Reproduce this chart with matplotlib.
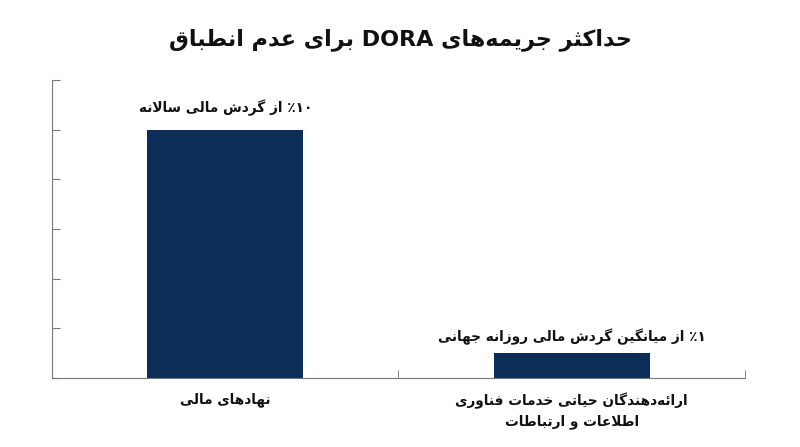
import re
import matplotlib
matplotlib.use('Agg')
import matplotlib.pyplot as plt

# data
categories = ['نهادهای مالی', 'ارائه‌دهندگان حیاتی خدمات فناوری\nاطلاعات و ارتباطات']
fines = [10, 1]
bar_labels = ['۱۰٪ از گردش مالی سالانه', '۱٪ از میانگین گردش مالی روزانه جهانی']
title = 'حداکثر جریمه‌های DORA برای عدم انطباق'

# contextual forms: isolated, final, initial, medial (right-joining letters have two)
FORMS = {
    'ا': '\uFE8D\uFE8E', 'آ': '\uFE81\uFE82', 'د': '\uFEA9\uFEAA', 'ذ': '\uFEAB\uFEAC',
    'ر': '\uFEAD\uFEAE', 'ز': '\uFEAF\uFEB0', 'ژ': '\uFB8A\uFB8B', 'و': '\uFEED\uFEEE',
    'ب': '\uFE8F\uFE90\uFE91\uFE92', 'پ': '\uFB56\uFB57\uFB58\uFB59',
    'ت': '\uFE95\uFE96\uFE97\uFE98', 'ث': '\uFE99\uFE9A\uFE9B\uFE9C',
    'ج': '\uFE9D\uFE9E\uFE9F\uFEA0', 'چ': '\uFB7A\uFB7B\uFB7C\uFB7D',
    'ح': '\uFEA1\uFEA2\uFEA3\uFEA4', 'خ': '\uFEA5\uFEA6\uFEA7\uFEA8',
    'س': '\uFEB1\uFEB2\uFEB3\uFEB4', 'ش': '\uFEB5\uFEB6\uFEB7\uFEB8',
    'ص': '\uFEB9\uFEBA\uFEBB\uFEBC', 'ض': '\uFEBD\uFEBE\uFEBF\uFEC0',
    'ط': '\uFEC1\uFEC2\uFEC3\uFEC4', 'ظ': '\uFEC5\uFEC6\uFEC7\uFEC8',
    'ع': '\uFEC9\uFECA\uFECB\uFECC', 'غ': '\uFECD\uFECE\uFECF\uFED0',
    'ف': '\uFED1\uFED2\uFED3\uFED4', 'ق': '\uFED5\uFED6\uFED7\uFED8',
    'ک': '\uFB8E\uFB8F\uFB90\uFB91', 'گ': '\uFB92\uFB93\uFB94\uFB95',
    'ل': '\uFEDD\uFEDE\uFEDF\uFEE0', 'م': '\uFEE1\uFEE2\uFEE3\uFEE4',
    'ن': '\uFEE5\uFEE6\uFEE7\uFEE8', 'ه': '\uFEE9\uFEEA\uFEEB\uFEEC',
    'ی': '\uFBFC\uFBFD\uFBFE\uFBFF', 'ئ': '\uFE89\uFE8A\uFE8B\uFE8C',
}
LAM_ALEF = {'ا': '\uFEFB\uFEFC', 'آ': '\uFEF5\uFEF6'}


def shape(text):
    """ join persian letters with presentation forms, then reorder for display """
    out = []
    i = 0
    while i < len(text):
        c = text[i]
        prev = text[i-1] if i > 0 else ''
        nxt = text[i+1] if i + 1 < len(text) else ''
        join_prev = prev in FORMS and len(FORMS[prev]) == 4
        if c not in FORMS:
            if c != '\u200c':
                out.append(c)
            i += 1
            continue
        if c == 'ل' and nxt in LAM_ALEF:
            out.append(LAM_ALEF[nxt][1 if join_prev else 0])
            i += 2
            continue
        f = FORMS[c]
        join_next = len(f) == 4 and nxt in FORMS
        if join_prev and join_next:
            out.append(f[3])
        elif join_next:
            out.append(f[2])
        elif join_prev:
            out.append(f[1])
        else:
            out.append(f[0])
        i += 1
    vis = ''.join(out)[::-1]
    vis = re.sub('[A-Za-z0-9۰-۹]+', lambda m: m.group(0)[::-1], vis)
    return vis


def rtl(text):
    return '\n'.join(shape(line) for line in text.split('\n'))


plt.rcParams['font.family'] = ['DejaVu Sans']
fig = plt.figure(figsize=[8, 4.47], dpi=100)
ax = fig.add_axes([0.065, 0.154, 0.866, 0.667])

x = list(range(len(categories)))
bars = ax.bar(x, fines, width=0.45, color='#0c2d57')
offsets = [10, 6]
for b, lab, off in zip(bars, bar_labels, offsets):
    ax.annotate(rtl(lab), (b.get_x() + b.get_width() / 2, b.get_height()),
                xytext=(0, off), textcoords='offset points', ha='center', va='bottom',
                fontsize=9.8, fontweight='bold', color='#111111')

ax.set_xlim(-0.5, 1.5)
ax.set_ylim(0, 12)
ax.set_yticks(range(0, 13, 2))
ax.set_yticklabels([])
ax.set_xticks(x)
ax.set_xticklabels([rtl(c) for c in categories], fontsize=9.8, fontweight='bold',
                   color='#111111', linespacing=1.5)
ax.set_xticks([0.5, 1.5], minor=True)
ax.tick_params(axis='x', which='major', length=0, pad=10)
ax.tick_params(axis='x', which='minor', direction='in', length=6, color='#777777')
ax.tick_params(axis='y', direction='in', length=6, color='#777777')

ax.spines['right'].set_color('none')
ax.spines['top'].set_color('none')
ax.spines['left'].set_color('#777777')
ax.spines['bottom'].set_color('#777777')

fig.suptitle(rtl(title), y=0.937, fontsize=16, fontweight='bold', color='#111111')

fig.savefig('out.png', dpi=100)
